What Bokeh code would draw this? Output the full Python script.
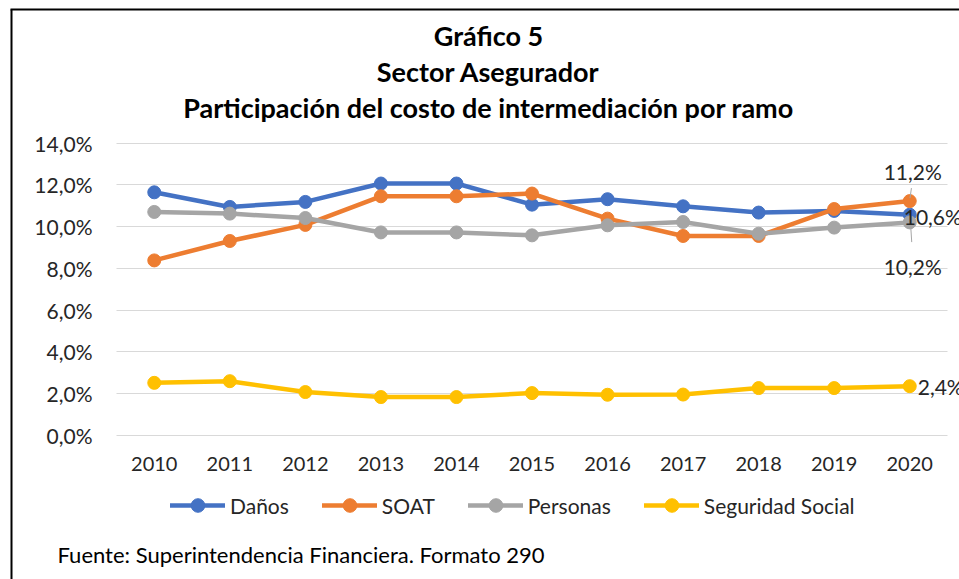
from bokeh.plotting import figure
from bokeh.models import (Range1d, FixedTicker, Label, Arrow, Legend, LegendItem)
from bokeh.embed import file_html
from bokeh.resources import INLINE

# ---------------- data ----------------
years = ["2010", "2011", "2012", "2013", "2014", "2015", "2016", "2017", "2018", "2019", "2020"]
danos = [11.64, 10.94, 11.18, 12.06, 12.06, 11.05, 11.31, 10.97, 10.67, 10.75, 10.57]
soat = [8.38, 9.31, 10.08, 11.45, 11.45, 11.58, 10.38, 9.55, 9.55, 10.84, 11.22]
personas = [10.70, 10.62, 10.41, 9.72, 9.72, 9.58, 10.06, 10.22, 9.66, 9.95, 10.20]
seguridad = [2.52, 2.60, 2.08, 1.84, 1.84, 2.03, 1.95, 1.96, 2.27, 2.27, 2.36]
series_names = ["Daños", "SOAT", "Personas", "Seguridad Social"]
y_ticks = [0, 2, 4, 6, 8, 10, 12, 14]
y_tick_labels = ["0,0%", "2,0%", "4,0%", "6,0%", "8,0%", "10,0%", "12,0%", "14,0%"]
title_lines = ["Gráfico 5", "Sector Asegurador", "Participación del costo de intermediación por ramo"]
footer = "Fuente: Superintendencia Financiera. Formato 290"

colors = ["#4472C4", "#ED7D31", "#A5A5A5", "#FFC000"]
FONT = "Lato"
TXT = "#262626"

# ---------------- layout (screen pixels) ----------------
W, H = 959, 579
PL, PR, PT, PB = 116, 947, 142.5, 435      # plot area edges
NX = len(years)
YMAX = 14.0
sx_unit = (PR - PL) / NX
sy_unit = (PB - PT) / YMAX

def X(sx):
    return (sx - PL) / sx_unit

def Y(sy):
    return (PB - sy) / sy_unit

xpos = [i + 0.5 for i in range(NX)]   # category slot centres

p = figure(width=W, height=H, x_range=Range1d(X(0), X(W)), y_range=Range1d(Y(H), Y(0)),
           output_backend="svg", toolbar_location=None,
           min_border=0, min_border_left=0, min_border_right=0,
           min_border_top=0, min_border_bottom=0)
p.outline_line_color = None
p.background_fill_color = "white"
p.border_fill_color = "white"

p.xgrid.grid_line_color = None
p.ygrid.grid_line_color = "#D9D9D9"
p.ygrid.grid_line_width = 1
p.ygrid.cross_bounds = (0, NX)
p.ygrid.ticker = FixedTicker(ticks=y_ticks)

p.yaxis.ticker = FixedTicker(ticks=y_ticks)
p.yaxis.major_label_overrides = {t: s for t, s in zip(y_ticks, y_tick_labels)}
p.xaxis.ticker = FixedTicker(ticks=xpos)
p.xaxis.major_label_overrides = {x: y for x, y in zip(xpos, years)}
p.yaxis.fixed_location = 0
p.xaxis.fixed_location = 0
for ax in (p.xaxis[0], p.yaxis[0]):
    ax.axis_line_color = None
    ax.major_tick_line_color = None
    ax.minor_tick_line_color = None
    ax.major_tick_out = 0
    ax.major_tick_in = 0
    ax.minor_tick_out = 0
    ax.major_label_text_font = FONT
    ax.major_label_text_color = TXT
p.xaxis.major_label_text_font_size = "20px"
p.yaxis.major_label_text_font_size = "21px"
p.yaxis.major_label_standoff = 24
p.xaxis.major_label_standoff = 21

all_series = [danos, soat, personas, seguridad]
items = []
for name, vals, c in zip(series_names, all_series, colors):
    ln = p.line(xpos, vals, line_color=c, line_width=4.5, line_join="round", line_cap="round")
    sc = p.scatter(xpos, vals, size=13, fill_color=c, line_color=c)
    items.append(LegendItem(label=name, renderers=[ln, sc]))

legend = Legend(items=items, orientation="horizontal", location=(170, H - 522),
                glyph_width=55, glyph_height=34, label_standoff=5, spacing=33,
                padding=0, margin=0, border_line_color=None, background_fill_alpha=0,
                label_text_font=FONT, label_text_font_size="21px", label_text_color=TXT)
p.add_layout(legend)

# titles
for txt, cy in zip(title_lines, [35, 70.5, 106.5]):
    p.add_layout(Label(x=X(488), y=Y(cy), text=txt, text_align="center",
                       text_baseline="middle", text_font=FONT, text_font_size="27px",
                       text_font_style="bold", text_color="black"))

# footer
p.add_layout(Label(x=X(57), y=Y(554), text=footer, text_align="left",
                   text_baseline="middle", text_font=FONT, text_font_size="22px",
                   text_color="black"))

# chart border (left and top edges visible)
p.add_layout(Arrow(end=None, x_start=X(11), y_start=Y(9), x_end=X(11), y_end=Y(H + 20),
                   line_color="black", line_width=2))
p.add_layout(Arrow(end=None, x_start=X(10), y_start=Y(9), x_end=X(W + 20), y_end=Y(9),
                   line_color="black", line_width=2))

# data labels for last year
def fmt(v):
    return f"{v:.1f}".replace(".", ",") + "%"

lx = xpos[-1]
lab_specs = [
    (danos[-1], "left", -6, -2),
    (soat[-1], "center", 3, 30),
    (personas[-1], "center", 3, -44),
    (seguridad[-1], "left", 8, 0),
]
for v, align, xo, yo in lab_specs:
    p.add_layout(Label(x=lx, y=v, text=fmt(v), text_align=align, text_baseline="middle",
                       x_offset=xo, y_offset=yo, text_font=FONT, text_font_size="21px",
                       text_color=TXT))

# leader lines
px_x = 1 / sx_unit
px_y = 1 / sy_unit
p.add_layout(Arrow(end=None, x_start=lx + 1.7 * px_x, y_start=soat[-1] + 13 * px_y,
                   x_end=lx + 0.3 * px_x, y_end=soat[-1] + 3 * px_y,
                   line_color="#A6A6A6", line_width=1))
p.add_layout(Arrow(end=None, x_start=lx + 1 * px_x, y_start=personas[-1] - 4 * px_y,
                   x_end=lx + 2 * px_x, y_end=personas[-1] - 19.7 * px_y,
                   line_color="#A6A6A6", line_width=1))

open("out.html", "w").write(file_html(p, INLINE))
